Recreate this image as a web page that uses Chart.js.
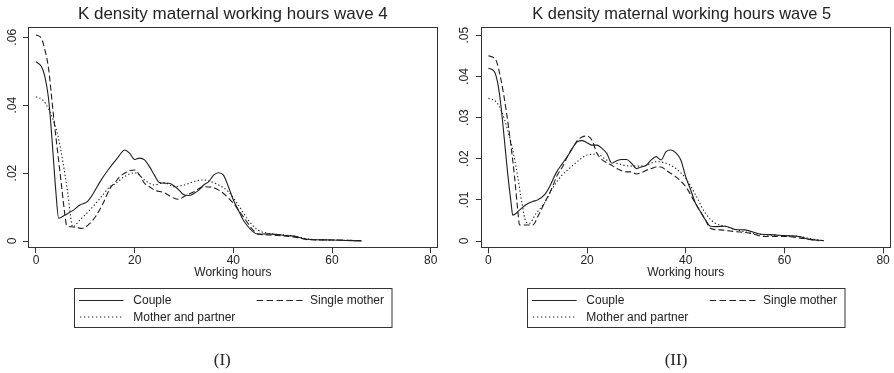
<!DOCTYPE html>
<html>
<head>
<meta charset="utf-8">
<script src="https://cdn.jsdelivr.net/npm/chart.js@4.4.1/dist/chart.umd.min.js"></script>
<style>
  html, body { margin: 0; padding: 0; background: #fff; overflow: hidden; }
  #wrap { position: relative; width: 894px; height: 373px; overflow: hidden; }
  canvas { position: absolute; top: 0; }
  #c1 { left: 0; }
  #c2 { left: 447px; }
  #overlay { position: absolute; left: 0; top: 0; pointer-events: none; }
  #overlay text { font-family: 'Liberation Sans', Arial, sans-serif; font-size: 12px; fill: #222; }
  #overlay text.cap { font-family: 'Liberation Serif', 'Times New Roman', serif; font-size: 17px; }
</style>
</head>
<body>
<div id="wrap">
  <canvas id="c1" width="447" height="280"></canvas>
  <canvas id="c2" width="470" height="280"></canvas>
  <svg id="overlay" width="894" height="373" xmlns="http://www.w3.org/2000/svg">
    <g id="leg1">
      <rect x="74.5" y="288.5" width="317.5" height="39" fill="none" stroke="#333" stroke-width="1"/>
      <line x1="79" y1="300.5" x2="123.5" y2="300.5" stroke="#222" stroke-width="1"/>
      <text x="133.3" y="304.3">Couple</text>
      <line x1="256.7" y1="300.5" x2="302.5" y2="300.5" stroke="#222" stroke-width="1" stroke-dasharray="6.5 3.4"/>
      <text x="310" y="304.3">Single mother</text>
      <line x1="80" y1="317" x2="123.5" y2="317" stroke="#222" stroke-width="1" stroke-dasharray="1.3 2.7"/>
      <text x="133.3" y="320.8">Mother and partner</text>
    </g>
    <g id="leg2" transform="translate(453,0)">
      <rect x="74.5" y="288.5" width="317.5" height="39" fill="none" stroke="#333" stroke-width="1"/>
      <line x1="79" y1="300.5" x2="123.5" y2="300.5" stroke="#222" stroke-width="1"/>
      <text x="133.3" y="304.3">Couple</text>
      <line x1="256.7" y1="300.5" x2="302.5" y2="300.5" stroke="#222" stroke-width="1" stroke-dasharray="6.5 3.4"/>
      <text x="310" y="304.3">Single mother</text>
      <line x1="80" y1="317" x2="123.5" y2="317" stroke="#222" stroke-width="1" stroke-dasharray="1.3 2.7"/>
      <text x="133.3" y="320.8">Mother and partner</text>
    </g>
    <text class="cap" x="222.3" y="364.5" text-anchor="middle">(I)</text>
    <text class="cap" x="676" y="364.5" text-anchor="middle">(II)</text>
  </svg>
</div>
<script>
// ---------- Data ----------
const xTicks = [0, 20, 40, 60, 80];
const yTicksW4 = [0, 0.02, 0.04, 0.06];
const yTicksW5 = [0, 0.01, 0.02, 0.03, 0.04, 0.05];

// Wave 4
const hoursW4Couple = [0,1.1,1.8,2.5,3,3.5,4,4.6,5.9,7.6,8.9,10.4,11.6,13,14.6,16.5,18,19,20,21,22,23,24,25,26,27,28,29,30,31,32,33,34,35,36,37,38,39,40,41,42,43,44,45,47,50,52,55,60,66];
const densW4Couple  = [.0528,.0514,.0484,.0425,.0347,.0248,.015,.0067,.0077,.0091,.0106,.0116,.014,.0175,.0209,.0244,.0268,.0258,.024,.0244,.0239,.0219,.0194,.0172,.017,.017,.0162,.015,.0136,.0134,.014,.015,.0165,.0175,.0194,.0201,.0194,.016,.0121,.0091,.0062,.0042,.0027,.002,.0021,.0017,.0015,.0005,.0003,0];

const hoursW4Single = [0,1.1,1.8,2.5,3.5,4.5,5.2,5.9,6.2,7.2,8.2,9.3,10.9,12.3,13.6,15,16,17,18,19,20,21,22,23,24,26,28,29,30,32,34,36,38,40,42,44,45,47,50,53,55,60,66];
const densW4Single  = [.0607,.0597,.0563,.0513,.0376,.0248,.016,.0072,.0047,.0042,.004,.0037,.0052,.0077,.0111,.0155,.0172,.019,.02,.0207,.0209,.0194,.017,.016,.015,.0142,.0126,.0123,.0131,.0145,.016,.0157,.014,.0111,.0072,.0032,.0021,.0018,.0015,.001,.0004,.0003,.0001];

const hoursW4Partner = [0,1.4,2.5,3.5,4.5,5.5,6.35,7.03,7.4,8.9,10.9,13,15,16,18,20,21,22,24,26,28,30,32,34,35,37,39,41,43,45,47,50,53,55,60,65];
const densW4Partner  = [.0425,.0415,.039,.0356,.0307,.0229,.015,.0072,.0042,.0062,.0091,.0126,.016,.0168,.019,.0201,.0194,.018,.0165,.0172,.016,.0165,.0175,.018,.0177,.0165,.0145,.0106,.0062,.0032,.0023,.0018,.0013,.0006,.0003,.0001];

// Wave 5
const hoursW5Couple = [0,1.2,1.9,2.56,3.24,3.9,4.6,4.93,6.3,7.6,9,10,11.35,12.4,13.7,14.9,16,17,18,19,20,21,22,23,24,25,26,27,28,29,30,31,32,33,34,35,36,37,38,39,40,41,42,43,44,45,46,48,50,52,55,58,60,63,65,68];
const densW5Couple  = [.042,.0412,.0383,.0327,.0246,.0165,.0092,.0063,.0075,.0088,.0096,.01,.0112,.0132,.0165,.0187,.0205,.0225,.0241,.0244,.0239,.0233,.0233,.0225,.0213,.0189,.0195,.0198,.0198,.0189,.0176,.018,.0184,.0197,.0205,.0197,.0217,.0221,.0214,.0197,.0156,.0124,.0091,.0071,.0051,.0036,.0035,.0036,.0028,.0027,.0017,.0015,.0013,.0011,.0004,.0001];

const hoursW5Single = [0,1.5,2.56,3.6,4.6,5.3,5.95,6.3,7.5,9,10,11.35,12.7,14,15,16,17,18,19,20,21,22,23,24,25,26,27,28,29,30,31,32,33,34,35,36,37,38,40,42,44,45,47,50,53,56,60,64,67];
const densW5Single  = [.045,.044,.0391,.0318,.0229,.0156,.0075,.0039,.0039,.0039,.0059,.0092,.0124,.0161,.018,.0205,.0225,.0244,.0253,.0255,.0245,.0213,.0198,.019,.0184,.0176,.0171,.0168,.0168,.0163,.0166,.0172,.0176,.018,.018,.0172,.0164,.0156,.0132,.0091,.0051,.0031,.0027,.0023,.0019,.0011,.0011,.0006,.0001];

const hoursW5Partner = [0,1.5,2.56,3.9,4.93,5.95,6.8,7.6,8.3,9.65,11.35,13,14.9,16,18,20,22,24,26,28,30,32,34,36,38,40,42,44,46,48,50,53,56,60,63,66,68];
const densW5Partner  = [.0347,.0339,.0318,.027,.0221,.0156,.0092,.0047,.0043,.0067,.0092,.0128,.016,.0172,.0193,.0209,.0211,.0197,.0189,.0183,.0182,.0184,.0193,.0189,.0176,.0152,.0112,.0067,.0043,.0036,.0028,.002,.0015,.0013,.0011,.0004,.0001];

const seriesNames = ['Couple', 'Single mother', 'Mother and partner'];

// ---------- Helpers ----------
const FONT = "'Liberation Sans', Arial, sans-serif";
const INK = '#1e1e1e';
const pts = (xs, ys) => xs.map((x, i) => ({ x: x, y: ys[i] }));
const fmtY = v => (v === 0 ? '0' : v.toFixed(2).replace(/^0/, ''));

function ds(label, xs, ys, dash) {
  return {
    label: label,
    data: pts(xs, ys),
    borderColor: INK,
    borderWidth: 1.1,
    borderDash: dash,
    pointRadius: 0,
    fill: false,
    cubicInterpolationMode: 'monotone',
    yAxisID: 'y'
  };
}

const framePlugin = {
  id: 'frame',
  afterDraw(chart) {
    const a = chart.chartArea, ctx = chart.ctx;
    ctx.save();
    ctx.strokeStyle = '#333';
    ctx.lineWidth = 1;
    const l = Math.floor(a.left) + 0.5, t = Math.floor(a.top) + 0.5;
    const r = Math.floor(a.right) + 0.5, b = Math.floor(a.bottom) - 0.5;
    ctx.strokeRect(l, t, r - l, b - t);
    ctx.restore();
  }
};

function makeChart(id, cfg) {
  const scales = {
    x: {
      type: 'linear',
      min: cfg.xMin, max: cfg.xMax,
      afterBuildTicks: s => { s.ticks = xTicks.map(v => ({ value: v })); },
      afterFit: s => { s.height = cfg.xH; s.paddingLeft = 0; s.paddingRight = 0; },
      grid: { display: true, drawOnChartArea: false, drawTicks: true, tickLength: 5, color: '#333', lineWidth: 1 },
      border: { display: false },
      ticks: { padding: 0, color: '#222', font: { family: FONT, size: 12 }, maxRotation: 0, autoSkip: false, callback: v => String(v) },
      title: { display: true, text: 'Working hours', color: '#222', font: { family: FONT, size: 12 }, padding: { top: 0, bottom: 0 } }
    },
    y: {
      type: 'linear',
      position: 'left',
      min: cfg.yMin, max: cfg.yMax,
      afterBuildTicks: s => { s.ticks = cfg.yTicks.map(v => ({ value: v })); },
      afterFit: s => { s.width = cfg.yW; s.paddingTop = 0; s.paddingBottom = 0; },
      grid: { display: true, drawOnChartArea: false, drawTicks: true, tickLength: 5, color: '#333', lineWidth: 1 },
      border: { display: false },
      ticks: { padding: cfg.yPad, color: '#222', font: { family: FONT, size: 12 }, minRotation: 90, maxRotation: 90, crossAlign: 'center', autoSkip: false, callback: fmtY }
    }
  };
  if (cfg.rightGap) {
    // empty right-hand margin so the title centres over the whole graph region
    scales.gap = {
      type: 'linear', position: 'right', display: true,
      grid: { display: false }, border: { display: false }, ticks: { display: false },
      afterFit: s => { s.width = cfg.rightGap; s.paddingTop = 0; s.paddingBottom = 0; }
    };
  }
  return new Chart(document.getElementById(id), {
    type: 'line',
    data: {
      datasets: [
        ds(seriesNames[0], cfg.couple[0], cfg.couple[1], []),
        ds(seriesNames[1], cfg.single[0], cfg.single[1], [6, 3]),
        ds(seriesNames[2], cfg.partner[0], cfg.partner[1], [1.3, 2.3])
      ]
    },
    options: {
      responsive: false,
      animation: false,
      devicePixelRatio: 1,
      layout: { padding: { left: cfg.padL, right: cfg.padR, top: 0, bottom: 0 } },
      plugins: {
        legend: { display: false },
        tooltip: { enabled: false },
        title: {
          display: true,
          text: cfg.title,
          fullSize: cfg.fullSize,
          color: '#222',
          font: { family: FONT, size: cfg.titleSize, weight: 'normal' },
          padding: { top: cfg.tTop, bottom: cfg.tBottom }
        }
      },
      scales: scales
    },
    plugins: [framePlugin]
  });
}

makeChart('c1', {
  title: 'K density maternal working hours wave 4',
  titleSize: 17, tTop: 4.4, tBottom: 2.2, fullSize: false,
  padL: 0, padR: 9.3, yW: 28, xH: 32, yPad: 2, rightGap: 0,
  xMin: -1.62, xMax: 81.42, yMin: -0.00206, yMax: 0.06303,
  yTicks: yTicksW4,
  couple: [hoursW4Couple, densW4Couple],
  single: [hoursW4Single, densW4Single],
  partner: [hoursW4Partner, densW4Partner]
});

makeChart('c2', {
  title: 'K density maternal working hours wave 5',
  titleSize: 16.4, tTop: 4.96, tBottom: 3.34, fullSize: true,
  padL: 0, padR: 0.6, yW: 34, xH: 31.7, yPad: 3, rightGap: 25.9,
  xMin: -1.5, xMax: 81.5, yMin: -0.00177, yMax: 0.05177,
  yTicks: yTicksW5,
  couple: [hoursW5Couple, densW5Couple],
  single: [hoursW5Single, densW5Single],
  partner: [hoursW5Partner, densW5Partner]
});
</script>
</body>
</html>
